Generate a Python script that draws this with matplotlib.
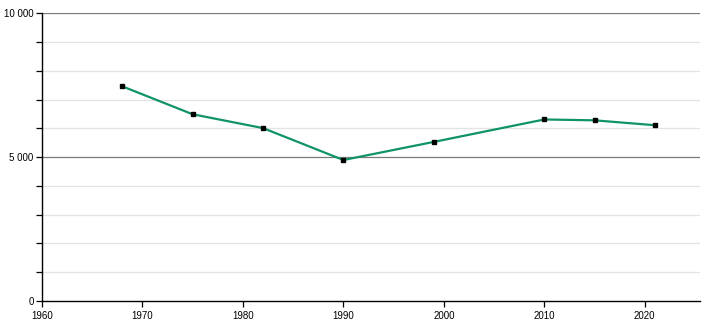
import matplotlib
matplotlib.use("Agg")
import matplotlib.pyplot as plt
from matplotlib.ticker import FixedLocator, MultipleLocator

years = [1968, 1975, 1982, 1990, 1999, 2010, 2015, 2021]
population = [7460, 6490, 6010, 4900, 5530, 6310, 6280, 6110]
y_labels = {0: "0", 5000: "5 000", 10000: "10 000"}

plt.rcParams['font.family'] = ['Liberation Sans', 'DejaVu Sans']
fig = plt.figure(figsize=(7.1, 3.2), dpi=100)
ax = fig.add_axes([42/710, 19/320, 658/710, (301-13.3)/320])

ax.set_xlim(1960, 2025.5)
ax.set_ylim(0, 10000)

for v in range(1000, 10001, 1000):
    if v % 5000 == 0:
        ax.axhline(v, color='#7a7a7a', lw=0.9, zorder=1)
    else:
        ax.axhline(v, color='#e3e3e3', lw=0.9, zorder=1)

ax.plot(years, population, color='#10936a', lw=1.6, zorder=3)
ax.plot(years, population, 's', color='black', ms=3.3, zorder=4)

ax.yaxis.set_major_locator(FixedLocator(list(y_labels.keys())))
ax.set_yticklabels(list(y_labels.values()))
ax.yaxis.set_minor_locator(MultipleLocator(1000))
ax.xaxis.set_major_locator(MultipleLocator(10))

ax.tick_params(axis='both', labelsize=7, length=4, width=0.9, color='black', pad=2)
ax.tick_params(axis='y', which='minor', length=4, width=0.9)
ax.tick_params(axis='x', pad=3)

for s in ['top', 'right']:
    ax.spines[s].set_visible(False)
for s in ['left', 'bottom']:
    ax.spines[s].set_linewidth(1.0)

fig.savefig("out.png", dpi=100)
